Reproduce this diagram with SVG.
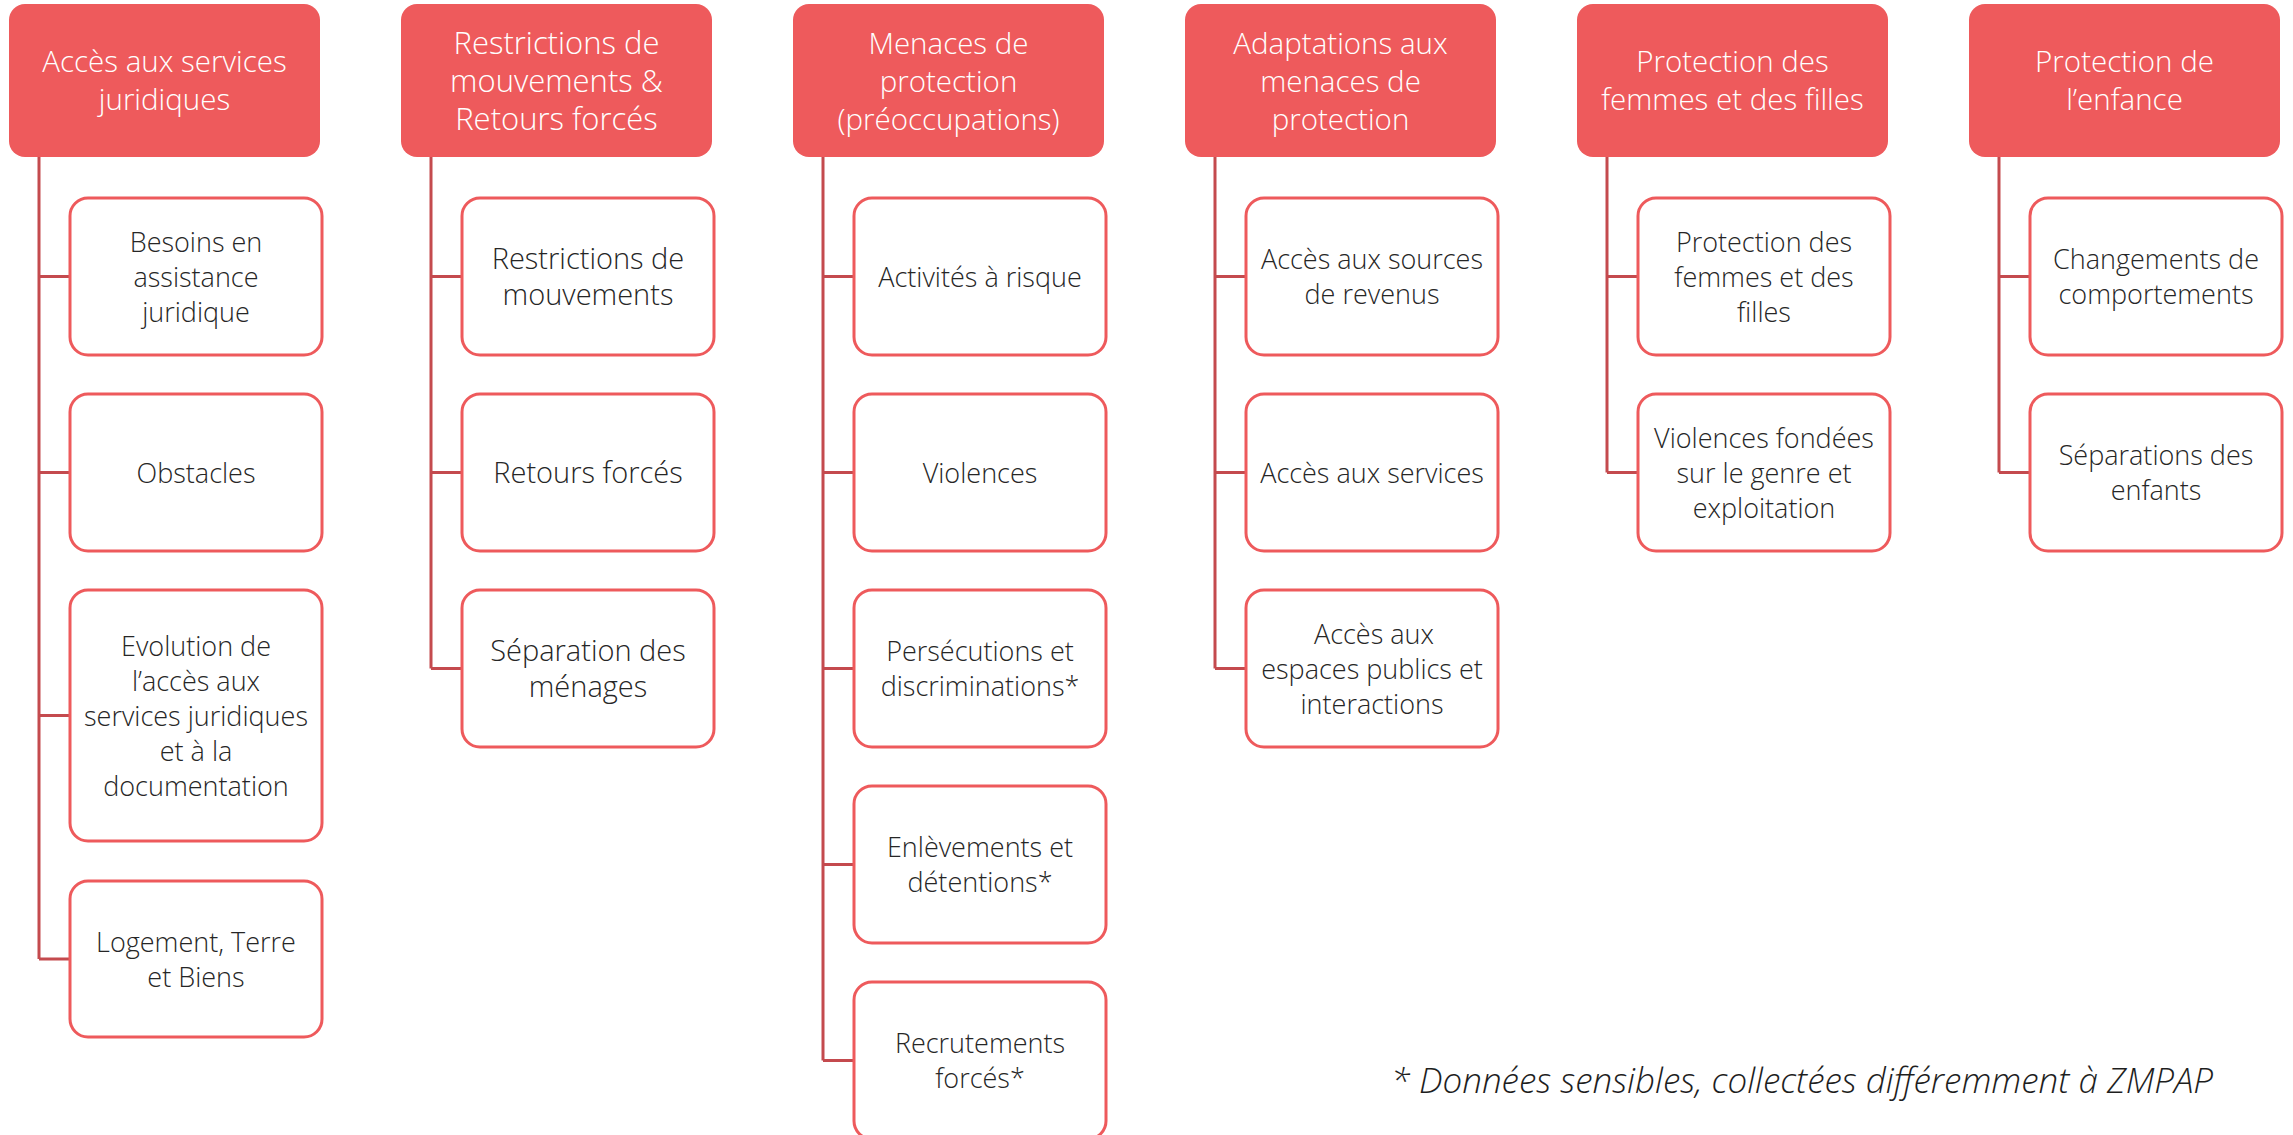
<svg xmlns="http://www.w3.org/2000/svg" width="2293" height="1135" viewBox="0 0 2293 1135">
<style>
.hdr{fill:#EE5A5C;}
.box{fill:#FFFFFF;stroke:#EE5A5C;stroke-width:3;}
.con{fill:none;stroke:#C44A4E;stroke-width:3;}
.ht{font-family:"Open Sans","Noto Sans","Liberation Sans",sans-serif;font-weight:300;font-size:29.5px;fill:#FFFFFF;text-anchor:middle;}
.ct{font-family:"Open Sans","Noto Sans","Liberation Sans",sans-serif;font-weight:300;font-size:27px;fill:#262626;text-anchor:middle;}
.ht2{font-size:31px;}
.ct2{font-size:29px;}
.note{font-family:"Open Sans","Noto Sans","Liberation Sans",sans-serif;font-weight:300;font-style:italic;font-size:35px;fill:#1E1E1E;text-anchor:end;}
</style>
<rect width="2293" height="1135" fill="#FFFFFF"/>
<g id="connectors">
<path class="con" d="M39 157 V959 M39 276.5 H70 M39 472.5 H70 M39 715.5 H70 M39 959 H70"/>
<path class="con" d="M431 157 V668.5 M431 276.5 H462 M431 472.5 H462 M431 668.5 H462"/>
<path class="con" d="M823 157 V1060.5 M823 276.5 H854 M823 472.5 H854 M823 668.5 H854 M823 864.5 H854 M823 1060.5 H854"/>
<path class="con" d="M1215 157 V668.5 M1215 276.5 H1246 M1215 472.5 H1246 M1215 668.5 H1246"/>
<path class="con" d="M1607 157 V472.5 M1607 276.5 H1638 M1607 472.5 H1638"/>
<path class="con" d="M1999 157 V472.5 M1999 276.5 H2030 M1999 472.5 H2030"/>
</g>
<g id="h1"><rect class="hdr" x="9" y="4" width="311" height="153" rx="16"/><text class="ht" x="164.5" y="72">Accès aux services</text><text class="ht" x="164.5" y="110">juridiques</text></g>
<g id="h2"><rect class="hdr" x="401" y="4" width="311" height="153" rx="16"/><text class="ht ht2" x="556.5" y="54">Restrictions de</text><text class="ht ht2" x="556.5" y="92">mouvements &amp;</text><text class="ht ht2" x="556.5" y="130">Retours forcés</text></g>
<g id="h3"><rect class="hdr" x="793" y="4" width="311" height="153" rx="16"/><text class="ht" x="948.5" y="54">Menaces de</text><text class="ht" x="948.5" y="92">protection</text><text class="ht" x="948.5" y="130">(préoccupations)</text></g>
<g id="h4"><rect class="hdr" x="1185" y="4" width="311" height="153" rx="16"/><text class="ht" x="1340.5" y="54">Adaptations aux</text><text class="ht" x="1340.5" y="92">menaces de</text><text class="ht" x="1340.5" y="130">protection</text></g>
<g id="h5"><rect class="hdr" x="1577" y="4" width="311" height="153" rx="16"/><text class="ht" x="1732.5" y="72">Protection des</text><text class="ht" x="1732.5" y="110">femmes et des filles</text></g>
<g id="h6"><rect class="hdr" x="1969" y="4" width="311" height="153" rx="16"/><text class="ht" x="2124.5" y="72">Protection de</text><text class="ht" x="2124.5" y="110">l’enfance</text></g>

<g id="c1a"><rect class="box" x="70" y="198" width="252" height="157" rx="18"/><text class="ct" x="196" y="251.5">Besoins en</text><text class="ct" x="196" y="286.5">assistance</text><text class="ct" x="196" y="321.5">juridique</text></g>
<g id="c1b"><rect class="box" x="70" y="394" width="252" height="157" rx="18"/><text class="ct" x="196" y="482.5">Obstacles</text></g>
<g id="c1c"><rect class="box" x="70" y="590" width="252" height="251" rx="18"/><text class="ct" x="196" y="655.5">Evolution de</text><text class="ct" x="196" y="690.5">l’accès aux</text><text class="ct" x="196" y="725.5">services juridiques</text><text class="ct" x="196" y="760.5">et à la</text><text class="ct" x="196" y="795.5">documentation</text></g>
<g id="c1d"><rect class="box" x="70" y="881" width="252" height="156" rx="18"/><text class="ct" x="196" y="951.5">Logement, Terre</text><text class="ct" x="196" y="986.5">et Biens</text></g>

<g id="c2a"><rect class="box" x="462" y="198" width="252" height="157" rx="18"/><text class="ct ct2" x="588" y="268.5">Restrictions de</text><text class="ct ct2" x="588" y="305">mouvements</text></g>
<g id="c2b"><rect class="box" x="462" y="394" width="252" height="157" rx="18"/><text class="ct ct2" x="588" y="483">Retours forcés</text></g>
<g id="c2c"><rect class="box" x="462" y="590" width="252" height="157" rx="18"/><text class="ct ct2" x="588" y="660.5">Séparation des</text><text class="ct ct2" x="588" y="697">ménages</text></g>

<g id="c3a"><rect class="box" x="854" y="198" width="252" height="157" rx="18"/><text class="ct" x="980" y="286.5">Activités à risque</text></g>
<g id="c3b"><rect class="box" x="854" y="394" width="252" height="157" rx="18"/><text class="ct" x="980" y="482.5">Violences</text></g>
<g id="c3c"><rect class="box" x="854" y="590" width="252" height="157" rx="18"/><text class="ct" x="980" y="661">Persécutions et</text><text class="ct" x="980" y="696">discriminations*</text></g>
<g id="c3d"><rect class="box" x="854" y="786" width="252" height="157" rx="18"/><text class="ct" x="980" y="857">Enlèvements et</text><text class="ct" x="980" y="892">détentions*</text></g>
<g id="c3e"><rect class="box" x="854" y="982" width="252" height="157" rx="18"/><text class="ct" x="980" y="1053">Recrutements</text><text class="ct" x="980" y="1088">forcés*</text></g>

<g id="c4a"><rect class="box" x="1246" y="198" width="252" height="157" rx="18"/><text class="ct" x="1372" y="269">Accès aux sources</text><text class="ct" x="1372" y="304">de revenus</text></g>
<g id="c4b"><rect class="box" x="1246" y="394" width="252" height="157" rx="18"/><text class="ct" x="1372" y="482.5">Accès aux services</text></g>
<g id="c4c"><rect class="box" x="1246" y="590" width="252" height="157" rx="18"/><text class="ct" x="1374" y="643.5">Accès aux</text><text class="ct" x="1372" y="678.5">espaces publics et</text><text class="ct" x="1372" y="713.5">interactions</text></g>

<g id="c5a"><rect class="box" x="1638" y="198" width="252" height="157" rx="18"/><text class="ct" x="1764" y="251.5">Protection des</text><text class="ct" x="1764" y="286.5">femmes et des</text><text class="ct" x="1764" y="321.5">filles</text></g>
<g id="c5b"><rect class="box" x="1638" y="394" width="252" height="157" rx="18"/><text class="ct" x="1764" y="447.5">Violences fondées</text><text class="ct" x="1764" y="482.5">sur le genre et</text><text class="ct" x="1764" y="517.5">exploitation</text></g>

<g id="c6a"><rect class="box" x="2030" y="198" width="252" height="157" rx="18"/><text class="ct" x="2156" y="269">Changements de</text><text class="ct" x="2156" y="304">comportements</text></g>
<g id="c6b"><rect class="box" x="2030" y="394" width="252" height="157" rx="18"/><text class="ct" x="2156" y="465">Séparations des</text><text class="ct" x="2156" y="500">enfants</text></g>

<text class="note" x="2213" y="1093">* Données sensibles, collectées différemment à ZMPAP</text>
</svg>
